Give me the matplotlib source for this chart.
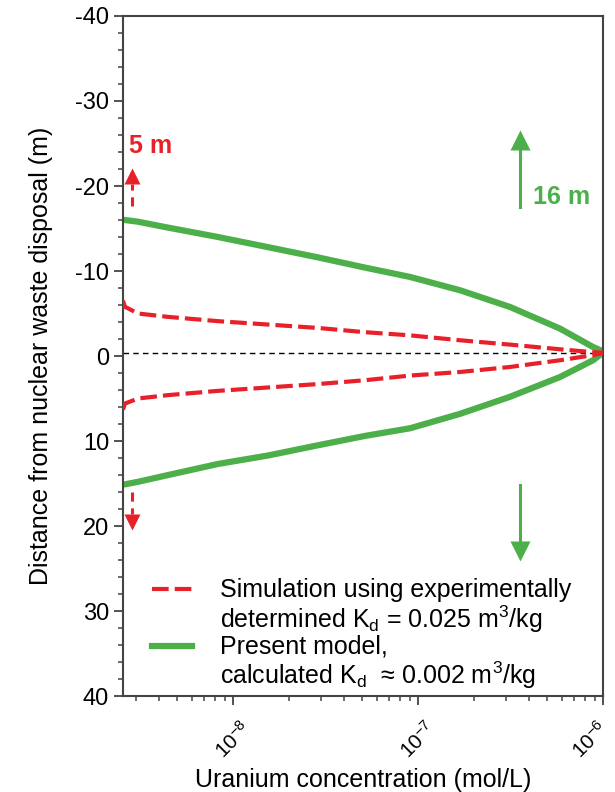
import matplotlib
matplotlib.use('Agg')
import matplotlib.pyplot as plt
from matplotlib.ticker import MultipleLocator, LogLocator, FixedLocator, NullFormatter
from matplotlib.transforms import ScaledTranslation

plt.rcParams['font.family'] = ['Liberation Sans', 'DejaVu Sans']
plt.rcParams['mathtext.fontset'] = 'custom'
plt.rcParams['mathtext.rm'] = 'Liberation Sans'
plt.rcParams['mathtext.it'] = 'Liberation Sans:italic'
plt.rcParams['axes.unicode_minus'] = False

RED = '#e8202a'
GREEN = '#4daf4a'
SPINE = '#444444'

conc = [2.54e-9, 2.60e-9, 3.06e-9, 4.46e-9, 8.29e-9, 1.55e-8, 2.88e-8,
        5.17e-8, 9.06e-8, 1.69e-7, 3.14e-7, 5.86e-7, 8.83e-7, 1.0e-6]
# distance (m), simulation with experimental Kd (dashed red)
sim_upper = [-6.5, -5.8, -5.0, -4.6, -4.1, -3.7, -3.3,
             -2.8, -2.43, -1.85, -1.34, -0.79, -0.45, -0.4]
sim_lower = [6.3, 5.6, 5.0, 4.6, 4.1, 3.7, 3.3,
             2.85, 2.3, 1.88, 1.29, 0.5, -0.1, -0.35]
# distance (m), present model (solid green)
model_upper = [-16.0, -16.0, -15.8, -15.1, -14.0, -12.8, -11.6,
               -10.4, -9.3, -7.73, -5.77, -3.22, -1.06, -0.55]
model_lower = [15.1, 15.1, 14.8, 14.0, 12.7, 11.7, 10.5,
               9.4, 8.5, 6.8, 4.8, 2.47, 0.5, -0.4]

center_y = -0.4
x_range = (2.54e-9, 1e-6)
y_ticks = [-40, -30, -20, -10, 0, 10, 20, 30, 40]
x_ticks = [1e-8, 1e-7, 1e-6]

# arrows: (x, shaft start, tip)
red_arrows = [(2.85e-9, -17.6, -22.1), (2.85e-9, 16.0, 20.5)]
green_arrows = [(3.56e-7, -17.5, -26.4), (3.56e-7, 15.2, 23.9)]

fig = plt.figure(figsize=(6.15, 7.92), dpi=100)
ax = fig.add_axes([0.2, 0.1212, 0.7805, 0.8586])

ax.axhline(center_y, color='k', lw=1, ls=(0, (4, 3)), zorder=1)

ax.plot(conc, sim_upper, color=RED, lw=3, dashes=(4, 1.45), zorder=3)
ax.plot(conc, sim_lower, color=RED, lw=3, dashes=(4, 1.45), zorder=3)
ax.plot(conc, model_upper, color=GREEN, lw=4.5, zorder=2)
ax.plot(conc, model_lower, color=GREEN, lw=4.5, zorder=2)

# arrows (shaft + triangle head)
for x, y0, y1 in red_arrows:
    d = 1 if y1 > y0 else -1
    ax.plot([x, x], [y0, y1 - d * 1.9], color=RED, lw=2.2, dashes=(3, 2.2), clip_on=False)
    ax.plot([x], [y1 - d * 0.95], marker='v' if d > 0 else '^', ms=12, color=RED,
            mec='none', clip_on=False)
for x, y0, y1 in green_arrows:
    d = 1 if y1 > y0 else -1
    ax.plot([x, x], [y0, y1 - d * 1.8], color=GREEN, lw=2.2)
    ax.plot([x], [y1 - d * 0.95], marker='v' if d > 0 else '^', ms=15, color=GREEN, mec='none')

ax.text(2.74e-9, -24.7, '5 m', color=RED, fontsize=18, fontweight='bold',
        ha='left', va='center')
ax.text(4.19e-7, -18.7, '16 m', color=GREEN, fontsize=18, fontweight='bold',
        ha='left', va='center')

# legend drawn by hand so the handle sits on the first line of each entry
ax.plot([0.060, 0.144], [0.157, 0.157], transform=ax.transAxes, color=RED,
        lw=3, dashes=(4, 1.45))
ax.plot([0.060, 0.144], [0.0735, 0.0735], transform=ax.transAxes, color=GREEN, lw=4.5)
ax.text(0.202, 0.1316,
        'Simulation using experimentally\ndetermined K$_\\mathrm{d}$ = 0.025 m$^3$/kg',
        transform=ax.transAxes, fontsize=18, va='center', ha='left', linespacing=1.05)
ax.text(0.202, 0.0485,
        'Present model,\ncalculated K$_\\mathrm{d}$  \u2248 0.002 m$^3$/kg',
        transform=ax.transAxes, fontsize=18, va='center', ha='left', linespacing=1.05)

ax.set_xscale('log')
ax.set_xlim(*x_range)
ax.set_ylim(40, -40)
ax.set_yticks(y_ticks)
ax.yaxis.set_minor_locator(MultipleLocator(2))
ax.xaxis.set_major_locator(FixedLocator(x_ticks))
ax.xaxis.set_minor_locator(LogLocator(base=10, subs=range(2, 10)))
ax.xaxis.set_minor_formatter(NullFormatter())

ax.tick_params(axis='both', which='major', direction='out', length=6.5, width=1.3,
               color=SPINE, labelsize=17)
ax.tick_params(axis='x', which='major', pad=9, labelsize=15)
ax.tick_params(axis='both', which='minor', direction='out', length=3.5, width=1.1,
               color=SPINE)
xlabels = ax.get_xticklabels()
for lbl in xlabels:
    lbl.set_rotation(45)
    lbl.set_ha('center')
# nudge the last label left so it stays inside the figure
xlabels[-1].set_transform(xlabels[-1].get_transform()
                          + ScaledTranslation(-9 / 72, 0, fig.dpi_scale_trans))

for s in ax.spines.values():
    s.set_color(SPINE)
    s.set_linewidth(1.5)

ax.set_xlabel('Uranium concentration (mol/L)', fontsize=18, labelpad=4)
ax.set_ylabel('Distance from nuclear waste disposal (m)', fontsize=18, labelpad=16)

fig.savefig('out.png', dpi=100)
